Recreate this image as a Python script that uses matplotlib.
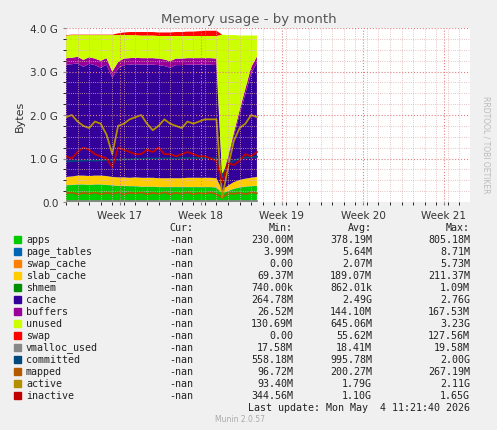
import numpy as np
import matplotlib
matplotlib.use("Agg")
import matplotlib.pyplot as plt

days = np.arange(34) * 0.5
apps      = [0.38,0.39,0.40,0.40,0.39,0.40,0.40,0.39,0.38,0.37,0.37,0.36,0.36,0.35,0.35,0.35,0.34,0.34,0.34,0.34,0.34,0.34,0.34,0.34,0.34,0.34,0.33,0.20,0.25,0.30,0.33,0.35,0.36,0.37]
page_tables=[0.006]*34
swap_cache=[0.0]*34
slab_cache=[0.19,0.19,0.20,0.20,0.20,0.20,0.20,0.20,0.19,0.19,0.19,0.19,0.20,0.20,0.20,0.20,0.20,0.20,0.20,0.20,0.20,0.21,0.21,0.21,0.21,0.21,0.21,0.07,0.12,0.15,0.17,0.18,0.19,0.20]
shmem     = [0.001]*34
cache     = [2.58,2.58,2.58,2.50,2.58,2.54,2.48,2.56,2.28,2.50,2.58,2.60,2.60,2.60,2.60,2.60,2.60,2.58,2.54,2.60,2.60,2.60,2.60,2.60,2.60,2.60,2.60,0.27,0.60,1.05,1.50,1.95,2.40,2.62]
buffers   = [0.15,0.15,0.15,0.16,0.15,0.15,0.16,0.15,0.14,0.15,0.15,0.15,0.15,0.15,0.15,0.15,0.15,0.15,0.15,0.15,0.15,0.15,0.15,0.15,0.15,0.15,0.15,0.03,0.06,0.08,0.10,0.12,0.14,0.15]
unused    = [0.52,0.52,0.50,0.57,0.51,0.54,0.59,0.53,0.84,0.62,0.54,0.53,0.52,0.52,0.52,0.52,0.52,0.54,0.58,0.52,0.52,0.51,0.51,0.51,0.51,0.51,0.52,3.27,2.80,2.25,1.72,1.22,0.73,0.48]
swap      = [0.01,0.01,0.01,0.01,0.01,0.01,0.01,0.01,0.01,0.04,0.06,0.07,0.07,0.08,0.08,0.08,0.08,0.08,0.08,0.09,0.09,0.10,0.10,0.11,0.12,0.12,0.12,0.0,0.0,0.0,0.0,0.0,0.0,0.0]
vmalloc_used=[0.018]*34
committed = [0.93,0.94,0.95,0.95,0.96,0.95,0.96,0.97,0.96,0.97,0.98,0.98,0.99,0.99,1.00,1.00,1.00,1.00,1.00,1.00,1.01,1.01,1.01,1.01,1.01,1.01,1.00,0.60,0.85,0.95,1.00,1.02,1.03,1.04]
mapped    = [0.20,0.22,0.18,0.21,0.19,0.22,0.18,0.21,0.19,0.22,0.18,0.21,0.20,0.22,0.18,0.21,0.19,0.22,0.18,0.21,0.19,0.22,0.18,0.21,0.19,0.22,0.18,0.10,0.20,0.19,0.21,0.18,0.22,0.20]
active    = [1.95,2.00,1.85,1.75,1.70,1.85,1.80,1.55,1.10,1.75,1.80,1.90,1.95,2.00,1.80,1.65,1.75,1.90,1.80,1.75,1.70,1.85,1.80,1.85,1.90,1.90,1.90,0.10,0.80,1.40,1.70,1.80,2.00,1.95]
inactive  = [1.05,1.00,1.15,1.25,1.20,1.10,1.05,1.00,0.80,1.25,1.20,1.15,1.10,1.10,1.20,1.15,1.25,1.10,1.10,1.05,1.10,1.15,1.10,1.05,1.05,1.00,0.95,0.45,0.90,0.85,0.95,1.10,1.05,1.15]

names = ["apps","page_tables","swap_cache","slab_cache","shmem","cache","buffers","unused","swap",
         "vmalloc_used","committed","mapped","active","inactive"]
colors = ["#00CC00","#0066B3","#FF8000","#FFCC00","#008F00","#330099","#990099","#CCFF00","#FF0000",
          "#888888","#00487D","#B35A00","#B38F00","#C00000"]
mins = ["230.00M","3.99M","0.00","69.37M","740.00k","264.78M","26.52M","130.69M","0.00","17.58M","558.18M","96.72M","93.40M","344.56M"]
avgs = ["378.19M","5.64M","2.07M","189.07M","862.01k","2.49G","144.10M","645.06M","55.62M","18.41M","995.78M","200.27M","1.79G","1.10G"]
maxs = ["805.18M","8.71M","5.73M","211.37M","1.09M","2.76G","167.53M","3.23G","127.56M","19.58M","2.00G","267.19M","2.11G","1.65G"]

W, H = 497, 431
fig = plt.figure(figsize=(W/100, H/100), dpi=100, facecolor="#F0F0F0")
ax = fig.add_axes([66/W, 1-203/H, (470-66)/W, (203-29)/H])
ax.set_facecolor("white")
x1 = (470-66)/81*7
stacks = [apps,page_tables,swap_cache,slab_cache,shmem,cache,buffers,unused,swap]
ax.stackplot(days, *stacks, colors=colors[:9], linewidth=0)
for i, s in enumerate([vmalloc_used,committed,mapped,active,inactive]):
    ax.plot(days, s, color=colors[9+i], lw=1.3)
ax.set_xlim(0, x1)
ax.set_ylim(0, 4.0)
wk = [(120-66)/81*7 + 7*i for i in range(5)]
ax.set_xticks(wk)
ax.set_xticklabels(["Week 17","Week 18","Week 19","Week 20","Week 21"], fontsize=7.5)
ax.set_yticks([0,1,2,3,4])
ax.set_yticklabels(["0.0","1.0 G","2.0 G","3.0 G","4.0 G"], fontsize=7.5)
ax.set_yticks(np.arange(0,4.01,0.25), minor=True)
ax.set_xticks(np.arange(0, x1, 1.0), minor=True)
ax.grid(True, which="both", color="#E0B0B0", ls=":", lw=0.6)
ax.grid(True, which="major", color="#E08080", ls=":", lw=0.8)
ax.set_axisbelow(False)
for sp in ax.spines.values(): sp.set_visible(False)
ax.tick_params(length=2, colors="#888888", labelcolor="#333333")
ax.set_ylabel("Bytes", fontsize=8, color="#333333")
fig.text(0.5, 1-19/H, "Memory usage - by month", ha="center", va="center", fontsize=9.5, color="#555555")
fig.text(486/W, 1-145/H, "RRDTOOL / TOBI OETIKER", rotation=270, ha="center", va="center", fontsize=5.5, color="#BBBBBB")

fs = 7.2
mono = "DejaVu Sans Mono"
def t(x, y, s, ha="right"):
    fig.text(x/W, 1-y/H, s, ha=ha, va="center", fontsize=fs, color="#222222", family=mono)
t(193, 228, "Cur:"); t(293, 228, "Min:"); t(372, 228, "Avg:"); t(470, 228, "Max:")
for i, n in enumerate(names):
    y = 240 + i*12
    fig.patches.append(plt.Rectangle((14/W, 1-(y+3.5)/H), 7/W, 7/H, transform=fig.transFigure, color=colors[i]))
    t(26, y, n, ha="left")
    t(193, y, "-nan"); t(293, y, mins[i]); t(372, y, avgs[i]); t(470, y, maxs[i])
t(470, 408, "Last update: Mon May  4 11:21:40 2026")
fig.text(240/W, 1-420/H, "Munin 2.0.57", ha="center", va="center", fontsize=5.5, color="#AAAAAA")
fig.savefig("out.png", dpi=100, facecolor=fig.get_facecolor())
